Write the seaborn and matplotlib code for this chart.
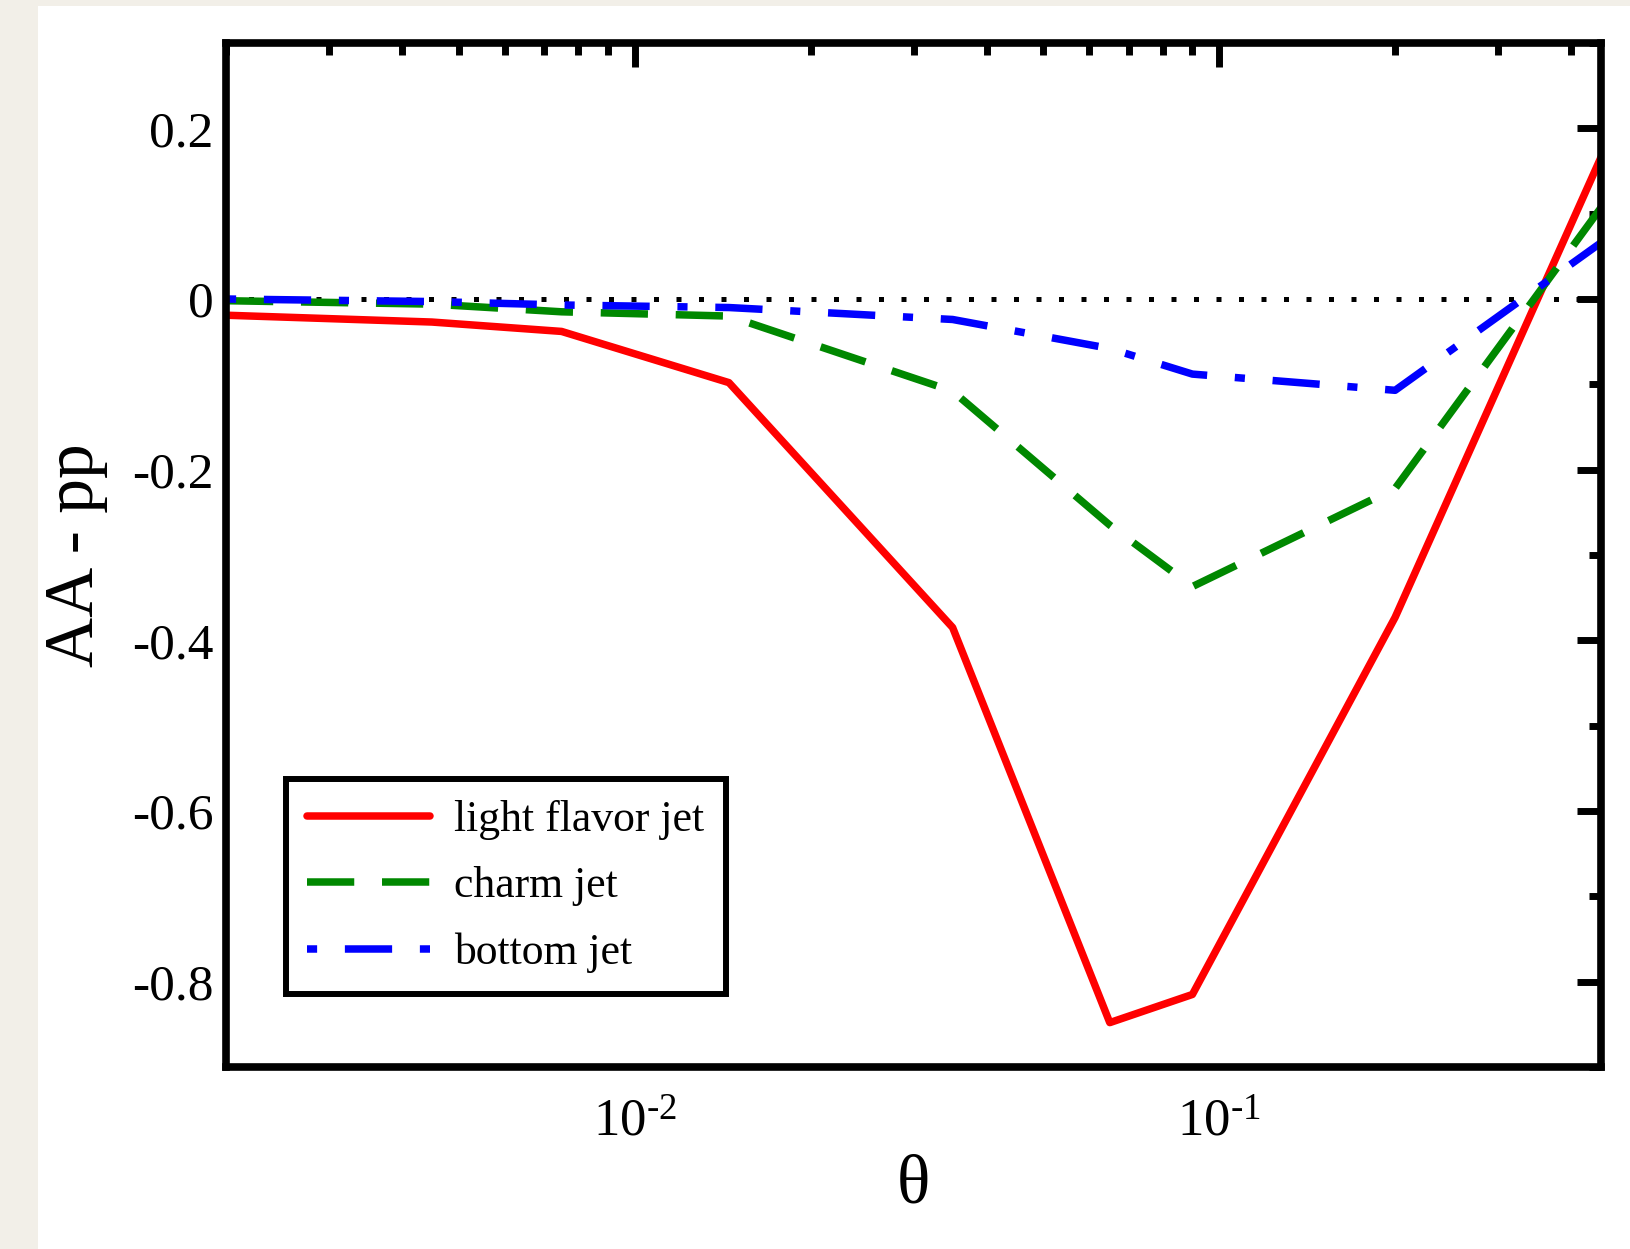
import matplotlib
matplotlib.use("Agg")
import matplotlib.pyplot as plt
import matplotlib.ticker as mticker
from matplotlib.lines import Line2D
from matplotlib.patches import Rectangle
import seaborn as sns
import numpy as np

# ---- data ----
theta = [0.002, 0.0045, 0.0075, 0.0145, 0.035, 0.065, 0.09, 0.2, 0.45]
light = [-0.019, -0.027, -0.038, -0.098, -0.385, -0.848, -0.815, -0.373, 0.166]
charm = [-0.002, -0.006, -0.015, -0.020, -0.108, -0.265, -0.337, -0.222, 0.107]
bottom = [0.000, -0.003, -0.007, -0.010, -0.024, -0.058, -0.088, -0.107, 0.066]
labels = ["light flavor jet", "charm jet", "bottom jet"]
colors = ["#ff0000", "#008800", "#0000ff"]
yticks = [-0.8, -0.6, -0.4, -0.2, 0.0, 0.2]

sns.set_style("white")
plt.rcParams["font.family"] = ["Liberation Serif", "DejaVu Serif"]
plt.rcParams["mathtext.fontset"] = "custom"
plt.rcParams["mathtext.rm"] = "Liberation Serif"
plt.rcParams["mathtext.it"] = "Liberation Serif:italic"
plt.rcParams["axes.unicode_minus"] = False
for k in ["text.color", "axes.labelcolor", "xtick.color", "ytick.color",
          "xtick.labelcolor", "ytick.labelcolor"]:
    plt.rcParams[k] = "black"

fig = plt.figure(figsize=(16.3, 12.49), dpi=100, facecolor="#f2efe8")
bg = Rectangle((38 / 1630, 0), 1, 1 - 6 / 1249, transform=fig.transFigure,
               facecolor="white", edgecolor="none", zorder=-100)
fig.add_artist(bg)
ax = fig.add_axes([226 / 1630, 1 - 1067 / 1249, (1601 - 226) / 1630, (1067 - 43) / 1249])
ax.set_zorder(1)
ax.set_facecolor("white")

lw = 5.4
styles = [dict(linestyle="-"),
          dict(linestyle=(0, (6.3, 3.7))),
          dict(linestyle=(0, (1.35, 3.7, 6.3, 3.7)))]
series = [light, charm, bottom]

ax.axhline(0, color="black", lw=3.6, linestyle=(0, (1, 3.5)), zorder=1)
handles = []
for i, (ys, lab, c, st) in enumerate(zip(series, labels, colors, styles)):
    sns.lineplot(x=theta, y=ys, ax=ax, color=c, lw=lw, zorder=2 + i, sort=False,
                 estimator=None, **st)
    handles.append(Line2D([], [], color=c, lw=lw, **st))

ax.set_xscale("log")
ax.set_xlim(0.002, 0.45)
ax.set_ylim(-0.9, 0.3)

ax.xaxis.set_major_locator(mticker.LogLocator(base=10))
ax.xaxis.set_minor_locator(mticker.LogLocator(base=10, subs=np.arange(2, 10)))
ax.xaxis.set_minor_formatter(mticker.NullFormatter())


def xfmt(v, pos):
    e = int(round(np.log10(v)))
    s = str(e).replace("-", "\u2010")
    return r"$\mathregular{10^{%s}}$" % s


ax.xaxis.set_major_formatter(mticker.FuncFormatter(xfmt))
ax.set_yticks(yticks)
ax.yaxis.set_minor_locator(mticker.MultipleLocator(0.1))
ax.yaxis.set_major_formatter(mticker.FuncFormatter(
    lambda v, p: "0" if abs(v) < 1e-9 else ("%.1f" % v)))

for sp in ax.spines.values():
    sp.set_linewidth(5.5)
    sp.set_color("black")
    sp.set_zorder(10)

ax.tick_params(which="both", direction="in", top=True, right=True, color="black",
               width=5)
ax.tick_params(which="major", length=17)
ax.tick_params(which="minor", length=8.6)
ax.tick_params(axis="y", pad=9, labelsize=37)
ax.tick_params(axis="x", pad=23, labelsize=38)

ax.set_xlabel("θ", fontsize=50)
ax.set_ylabel("AA - pp", fontsize=50)
ax.xaxis.set_label_coords(0.5, -0.085)
ax.yaxis.set_label_coords(-0.086, 0.5)

leg = ax.legend(handles, labels, loc="upper left",
                bbox_to_anchor=((286 - 226) / 1375, (1067 - 779) / 1024),
                borderaxespad=0, fontsize=31.5, handlelength=2.8,
                handletextpad=0.57, borderpad=0.48, labelspacing=0.6,
                fancybox=False, framealpha=1, edgecolor="black")
leg.get_frame().set_linewidth(4.3)
leg.set_zorder(20)

fig.savefig("out.png", dpi=100, facecolor=fig.get_facecolor())
